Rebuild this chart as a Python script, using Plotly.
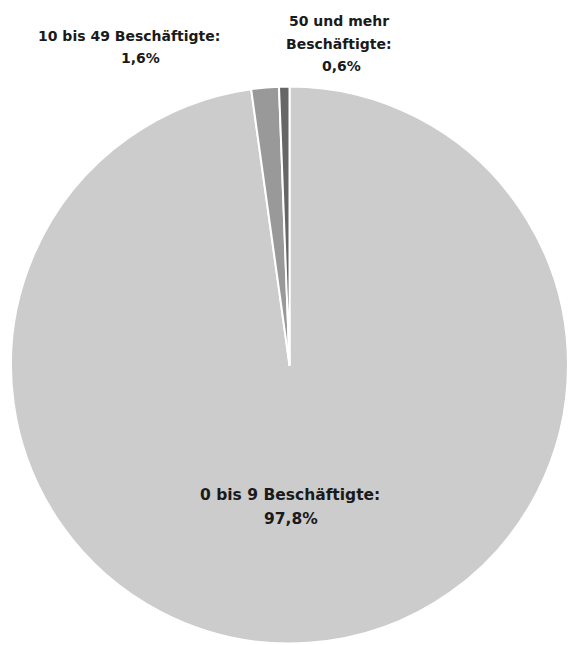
import plotly.graph_objects as go

# Data
categories = ["0 bis 9 Beschäftigte", "10 bis 49 Beschäftigte", "50 und mehr Beschäftigte"]
values = [97.8, 1.6, 0.6]
value_labels = ["97,8%", "1,6%", "0,6%"]
colors = ["#cccccc", "#999999", "#666666"]

# label lines (as displayed)
label_lines = [
    ["0 bis 9 Beschäftigte:", value_labels[0]],
    ["10 bis 49 Beschäftigte:", value_labels[1]],
    ["50 und mehr", "Beschäftigte:", value_labels[2]],
]

W, H = 568, 645

# label line centres in pixel coords (x centre, y centre) per category, and font size
label_pos = [
    [(290, 495), (291, 519)],
    [(129, 36), (140, 58)],
    [(339, 21), (339, 44), (341, 66)],
]
label_size = [15.5, 14, 14]

fig = go.Figure(
    go.Pie(
        labels=categories,
        values=values,
        sort=False,
        direction="clockwise",
        rotation=0,
        textinfo="none",
        hoverinfo="label+percent",
        marker=dict(colors=colors, line=dict(color="#ffffff", width=2)),
        domain=dict(x=[11 / W, 1.0], y=[1 / H, 559 / H]),
        showlegend=False,
    )
)

annotations = []
for lines, poss, fs in zip(label_lines, label_pos, label_size):
    for txt, (px, py) in zip(lines, poss):
        annotations.append(
            dict(
                text=txt,
                x=px / W,
                y=1 - py / H,
                xref="paper",
                yref="paper",
                xanchor="center",
                yanchor="middle",
                showarrow=False,
                font=dict(family="DejaVu Sans", size=fs, color="#1a1a1a", weight="bold"),
            )
        )

fig.update_layout(
    width=W,
    height=H,
    margin=dict(l=0, r=0, t=0, b=0),
    paper_bgcolor="#ffffff",
    plot_bgcolor="#ffffff",
    annotations=annotations,
)

fig.write_html(
    "out.html",
    config={"displayModeBar": False},
    post_script="document.body.style.margin='0';document.body.style.overflow='hidden';",
)
